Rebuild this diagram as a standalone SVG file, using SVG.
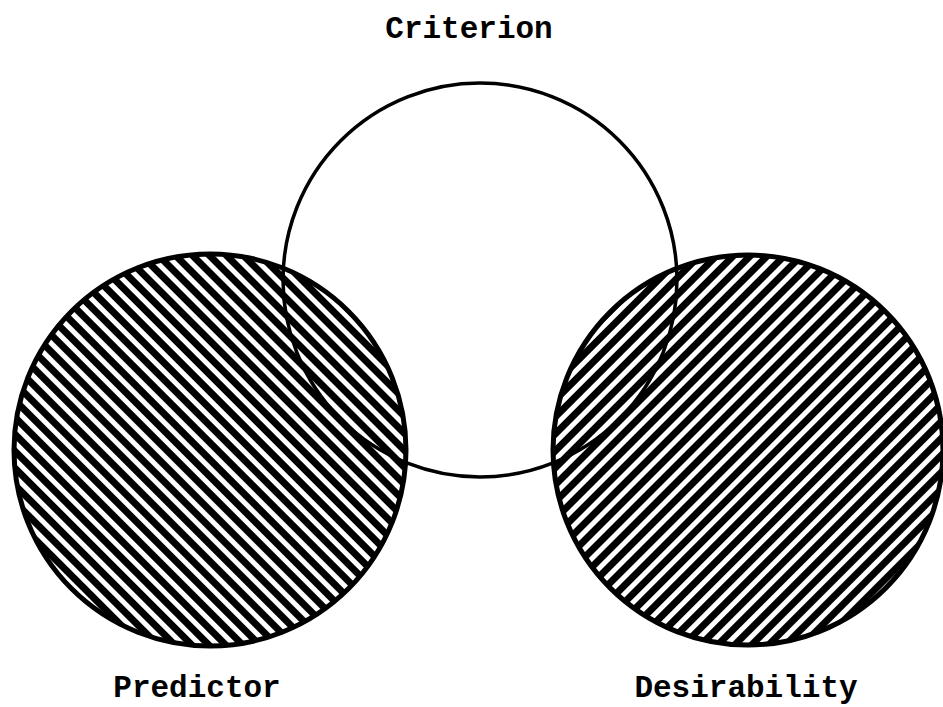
<svg xmlns="http://www.w3.org/2000/svg" width="943" height="707" viewBox="0 0 943 707">
<style>
.lbl{font-family:"Liberation Mono","Courier New",monospace;font-weight:bold;font-size:31px;fill:#000;text-anchor:middle}
.hc{stroke:#000;stroke-width:5}
.crit{fill:none;stroke:#000;stroke-width:3.5}
</style>
<defs>
<pattern id="hatchL" patternUnits="userSpaceOnUse" width="12" height="12" patternTransform="rotate(-45)">
<rect x="0" y="0" width="12" height="12" fill="#fff"/>
<rect x="0" y="0" width="7" height="12" fill="#000"/>
</pattern>
<pattern id="hatchR" patternUnits="userSpaceOnUse" width="12" height="12" patternTransform="rotate(45)">
<rect x="0" y="0" width="12" height="12" fill="#fff"/>
<rect x="0" y="0" width="7" height="12" fill="#000"/>
</pattern>
</defs>
<rect width="943" height="707" fill="#fff"/>
<g id="predictor">
<circle class="hc" cx="210" cy="450" r="196" fill="url(#hatchL)"/>
<text class="lbl" x="197" y="697">Predictor</text>
</g>
<g id="desirability">
<circle class="hc" cx="748" cy="450" r="195" fill="url(#hatchR)"/>
<text class="lbl" x="746" y="697">Desirability</text>
</g>
<g id="criterion">
<circle class="crit" cx="480" cy="280" r="197"/>
<text class="lbl" x="469" y="38">Criterion</text>
</g>
<g id="connectors"></g>
</svg>
